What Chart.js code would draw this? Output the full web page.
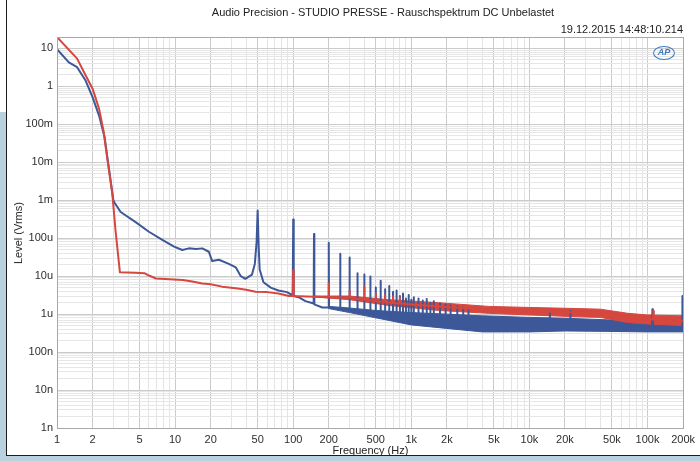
<!DOCTYPE html>
<html>
<head>
<meta charset="utf-8">
<script src="https://cdn.jsdelivr.net/npm/chart.js@4.4.0/dist/chart.umd.min.js"></script>
<style>
  html, body { margin: 0; padding: 0; background: #fff; }
  #wrap { position: relative; width: 700px; height: 461px; overflow: hidden; }
  #wrap div { position: absolute; font-family: 'Liberation Sans', Arial, sans-serif; color: #222; white-space: nowrap; }
  #title { left: 0; width: 766px; top: 6px; text-align: center; font-size: 11px; }
  #stamp { right: 17px; top: 23px; font-size: 11px; }
  #xTitle { left: 0; width: 741px; top: 444px; text-align: center; font-size: 11px; }
  #yTitle { left: 18px; top: 233px; font-size: 11px; transform: translate(-50%, -50%) rotate(-90deg); }
  #logo { left: 653px; top: 46px; width: 20px; height: 12px; border: 1px solid #3a78c0; border-radius: 50%;
          font: italic bold 9px 'Liberation Sans', Arial, sans-serif !important; color: #3a78c0 !important; text-align: center; line-height: 12px; }
</style>
</head>
<body>
<div id="wrap">
  <canvas id="apChart" width="700" height="461"></canvas>
  <div id="title">Audio Precision - STUDIO PRESSE - Rauschspektrum DC Unbelastet</div>
  <div id="stamp">19.12.2015 14:48:10.214</div>
  <div id="xTitle">Frequency (Hz)</div>
  <div id="yTitle">Level (Vrms)</div>
  <div id="logo">AP</div>
</div>
<script>
// axis ticks
const xTickValues = [1, 2, 5, 10, 20, 50, 100, 200, 500, 1000, 2000, 5000, 10000, 20000, 50000, 100000, 200000];
const xTickLabels = ['1', '2', '5', '10', '20', '50', '100', '200', '500', '1k', '2k', '5k', '10k', '20k', '50k', '100k', '200k'];
const yTickValues = [1e-9, 1e-8, 1e-7, 1e-6, 1e-5, 1e-4, 1e-3, 1e-2, 1e-1, 1, 10];
const yTickLabels = ['1n', '10n', '100n', '1u', '10u', '100u', '1m', '10m', '100m', '1', '10'];

// red trace [Hz, Vrms]
const redTrace = [
  [1, 20], [1.48, 5.4], [1.69, 2.4], [2, 0.87], [2.27, 0.26], [2.47, 0.07], [2.66, 0.013],
  [2.94, 1.5e-3], [3.13, 1.6e-4], [3.41, 1.26e-5], [4.6, 1.23e-5], [5.5, 1.2e-5], [6, 1.04e-5],
  [6.9, 8.7e-6], [11.6, 7.9e-6], [14, 7.2e-6], [17, 6.4e-6], [20, 6.1e-6], [25, 5.3e-6],
  [32.7, 4.8e-6], [40, 4.4e-6], [48, 3.9e-6], [60, 3.8e-6], [75, 3.5e-6], [92, 3.0e-6],
  [99, 3.0e-6], [100, 1.4e-5], [101, 3.0e-6], [130, 2.9e-6],
  [199, 2.8e-6], [200, 6.5e-6], [201, 2.8e-6], [260, 2.75e-6],
  [299, 2.7e-6], [300, 4.2e-6], [301, 2.7e-6],
  [399, 2.4e-6], [400, 5.2e-6], [401, 2.4e-6],
  [499, 2.2e-6], [500, 3.5e-6], [501, 2.2e-6],
  [599, 2.05e-6], [600, 3.2e-6], [601, 2.05e-6],
  [699, 1.95e-6], [700, 2.9e-6], [701, 1.95e-6],
  [799, 1.9e-6], [800, 2.8e-6], [801, 1.9e-6],
  [1000, 1.8e-6], [1700, 1.6e-6], [4500, 1.3e-6], [10000, 1.2e-6], [26000, 1.1e-6],
  [40000, 1.07e-6], [68000, 0.8e-6], [111000, 0.72e-6], [112000, 1.2e-6], [113000, 0.72e-6],
  [200000, 0.67e-6]
];

// blue trace [Hz, Vrms]
const blueTrace = [
  [1, 9.5], [1.26, 4.3], [1.48, 3.2], [1.75, 1.4], [2, 0.52], [2.27, 0.17], [2.53, 0.046],
  [2.72, 0.009], [3, 1e-3], [3.08, 8.5e-4], [3.46, 4.9e-4], [4.6, 2.7e-4], [6, 1.48e-4],
  [7.8, 9e-5], [9.8, 6e-5], [11.5, 4.9e-5], [13.1, 5.4e-5], [15, 5.2e-5], [17, 5.4e-5],
  [19.3, 4.4e-5], [20.6, 2.5e-5], [23.5, 2.7e-5], [28.5, 2.1e-5], [32.7, 1.7e-5], [36, 1e-5],
  [39.3, 8.5e-6], [44.8, 1.1e-5], [47.3, 2.1e-5], [49, 8e-5], [50, 5.4e-4], [51, 6e-5],
  [52, 1.5e-5], [56, 6.9e-6], [64.5, 5e-6], [75, 4.2e-6], [88.6, 3.8e-6],
  [99, 3.1e-6], [100, 3.1e-4], [101, 3.0e-6], [111, 2.8e-6], [127, 2.2e-6],
  [149, 1.9e-6], [150, 1.3e-4], [151, 1.8e-6], [176, 1.5e-6],
  [199, 1.5e-6], [200, 7.6e-5], [201, 1.5e-6],
  [249, 1.4e-6], [250, 3.9e-5], [251, 1.4e-6],
  [299, 1.3e-6], [300, 3.1e-5], [301, 1.3e-6],
  [349, 1.2e-6], [350, 1.2e-5], [351, 1.2e-6],
  [399, 1.15e-6], [400, 1.1e-5], [401, 1.15e-6],
  [449, 1.1e-6], [450, 9.8e-6], [451, 1.1e-6],
  [499, 1.0e-6], [500, 5.0e-6], [501, 1.0e-6],
  [549, 1.0e-6], [550, 7.6e-6], [551, 1.0e-6],
  [599, 0.98e-6], [600, 4.5e-6], [601, 0.98e-6],
  [649, 0.95e-6], [650, 5.5e-6], [651, 0.95e-6],
  [699, 0.92e-6], [700, 3.8e-6], [701, 0.92e-6],
  [749, 0.9e-6], [750, 4.2e-6], [751, 0.9e-6],
  [799, 0.88e-6], [800, 3.0e-6], [801, 0.88e-6],
  [849, 0.86e-6], [850, 3.5e-6], [851, 0.86e-6],
  [899, 0.84e-6], [900, 2.6e-6], [901, 0.84e-6],
  [949, 0.82e-6], [950, 3.2e-6], [951, 0.82e-6],
  [999, 0.8e-6], [1000, 2.4e-6], [1001, 0.8e-6],
  [1049, 0.79e-6], [1050, 2.8e-6], [1051, 0.79e-6],
  [1149, 0.77e-6], [1150, 2.6e-6], [1151, 0.77e-6],
  [1249, 0.75e-6], [1250, 2.3e-6], [1251, 0.75e-6],
  [1349, 0.73e-6], [1350, 2.5e-6], [1351, 0.73e-6],
  [1449, 0.72e-6], [1450, 2.0e-6], [1451, 0.72e-6],
  [1549, 0.7e-6], [1550, 2.2e-6], [1551, 0.7e-6],
  [1749, 0.68e-6], [1750, 1.9e-6], [1751, 0.68e-6],
  [1948, 0.66e-6], [1950, 1.8e-6], [1952, 0.66e-6],
  [2148, 0.64e-6], [2150, 1.7e-6], [2152, 0.64e-6],
  [2447, 0.62e-6], [2450, 1.6e-6], [2453, 0.62e-6],
  [2747, 0.6e-6], [2750, 1.5e-6], [2753, 0.6e-6],
  [3047, 0.58e-6], [3050, 1.4e-6], [3053, 0.58e-6],
  [5000, 0.55e-6],
  [14850, 0.55e-6], [14900, 1.1e-6], [14950, 0.55e-6],
  [22100, 0.54e-6], [22200, 1.2e-6], [22300, 0.54e-6],
  [50000, 0.5e-6],
  [109000, 0.46e-6], [110000, 1.35e-6], [111000, 0.46e-6],
  [196000, 0.44e-6], [197000, 3.0e-6], [198000, 0.44e-6],
  [200000, 0.44e-6]
];

// noise band envelopes [Hz, Vrms]
const redBandLow = [[150, 2.85e-6], [300, 2.4e-6], [640, 1.7e-6], [1700, 1.25e-6], [4500, 1.05e-6], [10000, 0.95e-6],
  [26000, 0.85e-6], [40000, 0.82e-6], [68000, 0.6e-6], [100000, 0.55e-6], [200000, 0.5e-6]];
const redBandHigh = [[150, 3.0e-6], [300, 3.0e-6], [640, 2.4e-6], [1700, 2.0e-6], [4500, 1.6e-6], [10000, 1.5e-6],
  [26000, 1.4e-6], [40000, 1.35e-6], [68000, 1.05e-6], [100000, 0.95e-6], [200000, 0.9e-6]];
const blueBandLow = [[200, 1.4e-6], [300, 1.1e-6], [500, 0.8e-6], [1000, 0.52e-6], [2000, 0.42e-6], [4000, 0.34e-6],
  [10000, 0.34e-6], [20000, 0.36e-6], [50000, 0.35e-6], [100000, 0.34e-6], [200000, 0.34e-6]];
const blueBandHigh = [[200, 1.6e-6], [300, 1.45e-6], [500, 1.25e-6], [1000, 1.1e-6], [2000, 1.0e-6], [4000, 0.9e-6],
  [10000, 0.82e-6], [20000, 0.78e-6], [50000, 0.7e-6], [100000, 0.62e-6], [200000, 0.56e-6]];

const RED = '#d5473f';
const BLUE = '#3c5898';
const TICK_FONT = { family: "'Liberation Sans', Arial, sans-serif", size: 11 };

function pts(arr) { return arr.map(p => ({ x: p[0], y: p[1] })); }
function findLabel(values, labels, v) {
  for (let i = 0; i < values.length; i++) {
    if (Math.abs(v / values[i] - 1) < 1e-6) return labels[i];
  }
  return '';
}
// all 1..9 x 10^n gridline positions between lo and hi
function logGrid(lo, hi, minExp, maxExp) {
  const out = [];
  for (let e = minExp; e <= maxExp; e++) {
    for (let k = 1; k <= 9; k++) {
      const v = k * Math.pow(10, e);
      if (v >= lo * 0.999999 && v <= hi * 1.000001) out.push({ value: v });
    }
  }
  return out;
}

const framePlugin = {
  id: 'frame',
  beforeDraw(chart) {
    const c = chart.ctx;
    c.save();
    c.fillStyle = '#fff';
    c.fillRect(0, 0, 700, 461);
    c.fillStyle = '#b9d1de';
    c.fillRect(0, 112, 6, 349);
    c.fillRect(0, 456, 700, 5);
    c.strokeStyle = '#1c1c1c';
    c.lineWidth = 1;
    c.beginPath();
    c.moveTo(6.5, 0); c.lineTo(6.5, 456);
    c.moveTo(6, 455.5); c.lineTo(700, 455.5);
    c.stroke();
    c.restore();
  },
  afterDraw(chart) {
    const a = chart.chartArea;
    const c = chart.ctx;
    c.save();
    c.strokeStyle = '#a8a8a8';
    c.lineWidth = 1;
    c.strokeRect(Math.round(a.left) + 0.5, Math.round(a.top) + 0.5, Math.round(a.right - a.left), Math.round(a.bottom - a.top));
    c.restore();
  }
};

const ctx = document.getElementById('apChart').getContext('2d');
const apChart = new Chart(ctx, {
  type: 'line',
  data: {
    datasets: [
      { data: pts(redTrace), borderColor: RED, borderWidth: 2, fill: false },
      { data: pts(blueTrace), borderColor: BLUE, borderWidth: 2, fill: false },
      { data: pts(redBandHigh), borderColor: RED, borderWidth: 1, backgroundColor: RED, fill: 3 },
      { data: pts(redBandLow), borderColor: RED, borderWidth: 1, fill: false },
      { data: pts(blueBandHigh), borderColor: BLUE, borderWidth: 1, backgroundColor: BLUE, fill: 5 },
      { data: pts(blueBandLow), borderColor: BLUE, borderWidth: 1, fill: false }
    ]
  },
  options: {
    responsive: false,
    animation: false,
    devicePixelRatio: 1,
    layout: { padding: { top: 37, right: 16, left: 0, bottom: 0 } },
    elements: {
      point: { radius: 0, hoverRadius: 0 },
      line: { tension: 0, borderJoinStyle: 'round', borderCapStyle: 'round' }
    },
    plugins: { legend: { display: false }, tooltip: { enabled: false } },
    scales: {
      x: {
        type: 'logarithmic',
        min: 1,
        max: 200000,
        afterBuildTicks: scale => { scale.ticks = logGrid(1, 200000, 0, 5); },
        afterFit: scale => { scale.height = 33; },
        border: { display: false },
        grid: {
          drawTicks: false,
          color: c => findLabel(xTickValues, xTickLabels, c.tick.value) ? '#cbcbcb' : '#e4e4e4'
        },
        ticks: {
          autoSkip: false,
          maxRotation: 0,
          padding: 5,
          color: '#2e2e2e',
          font: TICK_FONT,
          callback: v => findLabel(xTickValues, xTickLabels, v)
        }
      },
      y: {
        type: 'logarithmic',
        min: 1e-9,
        max: 20,
        afterBuildTicks: scale => { scale.ticks = logGrid(1e-9, 20, -9, 1); },
        afterFit: scale => { scale.width = 57; },
        border: { display: false },
        grid: {
          drawTicks: false,
          color: c => findLabel(yTickValues, yTickLabels, c.tick.value) ? '#cbcbcb' : '#e6e6e6'
        },
        ticks: {
          autoSkip: false,
          padding: 4,
          color: '#2e2e2e',
          font: TICK_FONT,
          callback: v => findLabel(yTickValues, yTickLabels, v)
        }
      }
    }
  },
  plugins: [framePlugin]
});
</script>
</body>
</html>
